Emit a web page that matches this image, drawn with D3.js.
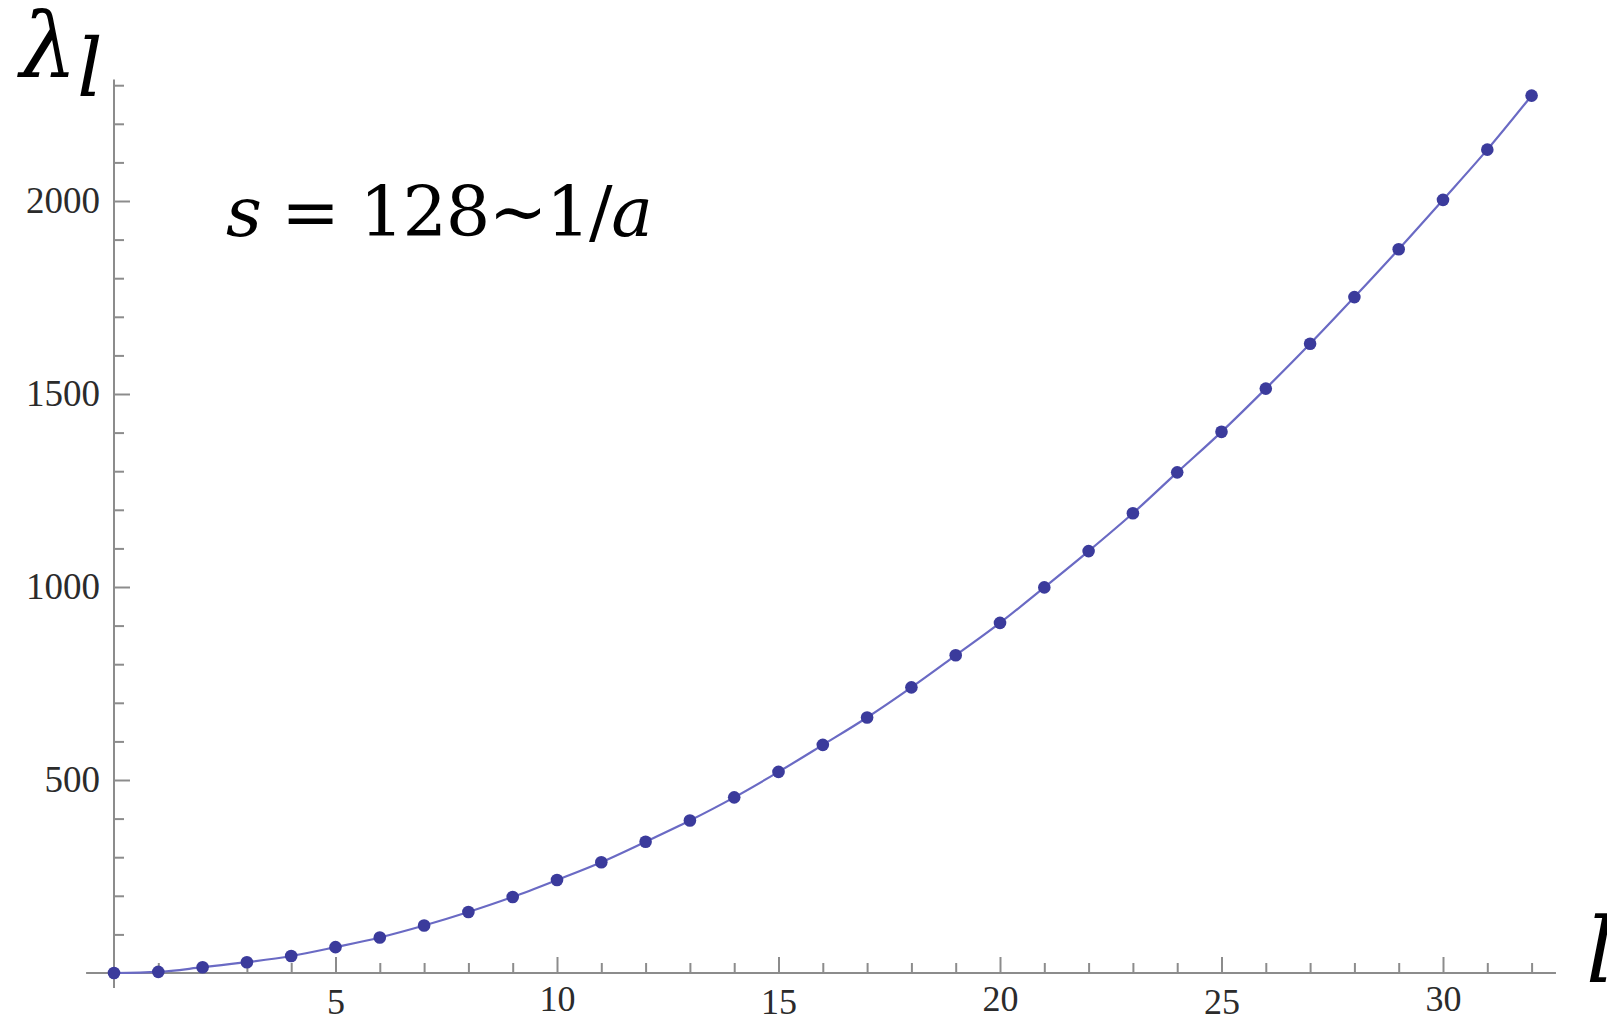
<!DOCTYPE html>
<html>
<head>
<meta charset="utf-8">
<script src="https://cdn.jsdelivr.net/npm/d3@7"></script>
<style>
  body { margin: 0; background: #fff; }
  svg { display: block; }
</style>
</head>
<body>
<div id="chart"></div>
<script>
// eigenvalues lambda_l, l = 0..32
const ells = d3.range(0, 33);
const lambdas = [0, 3, 15, 28, 44, 67, 92, 123, 158, 197, 241, 287, 340, 395, 455, 521,
                 591, 662, 740, 823, 907, 999, 1093, 1191, 1297, 1402, 1514, 1630, 1751,
                 1875, 2003, 2133, 2273];
const xMajor = [5, 10, 15, 20, 25, 30];
const xMinor = d3.range(1, 33).filter(d => d % 5 !== 0);
const yMajor = [500, 1000, 1500, 2000];
const yMinor = d3.range(100, 2400, 100).filter(d => d % 500 !== 0);

const W = 1607, H = 1022;
const AXIS = "#8c8c8c", LABEL = "#2b2b2b", LINE = "#6a6ac4", DOT = "#3b3b9c";
const TICKFONT = "'Liberation Serif', 'Times New Roman', Times, serif";

const data = ells.map((l, i) => ({ l: l, v: lambdas[i] }));

const x = d3.scaleLinear().domain([0, 30]).range([114, 1443]);
const y = d3.scaleLinear().domain([0, 2000]).range([973, 201]);

const svg = d3.select("#chart").append("svg")
    .attr("width", W)
    .attr("height", H);

// axis lines, crossing at the origin with a short overhang
svg.append("line")
    .attr("x1", x(-0.63)).attr("x2", x(32.55))
    .attr("y1", y(0)).attr("y2", y(0))
    .attr("stroke", AXIS).attr("stroke-width", 2);
svg.append("line")
    .attr("x1", x(0)).attr("x2", x(0))
    .attr("y1", y(-39)).attr("y2", y(2315))
    .attr("stroke", AXIS).attr("stroke-width", 2);

// x ticks (pointing up, inside the plot)
const xMinorAxis = d3.axisBottom(x).tickValues(xMinor).tickSize(-10).tickFormat("");
svg.append("g").attr("transform", `translate(0, ${y(0)})`).call(xMinorAxis)
    .call(g => g.select(".domain").remove());

const xAxis = d3.axisBottom(x).tickValues(xMajor).tickSize(-16).tickPadding(12)
    .tickFormat(d3.format("d"));
svg.append("g").attr("class", "xaxis").attr("transform", `translate(0, ${y(0)})`).call(xAxis)
    .call(g => g.select(".domain").remove());

// y ticks (pointing right)
const yMinorAxis = d3.axisLeft(y).tickValues(yMinor).tickSize(-10).tickFormat("");
svg.append("g").attr("transform", `translate(${x(0)}, 0)`).call(yMinorAxis)
    .call(g => g.select(".domain").remove());

const yAxis = d3.axisLeft(y).tickValues(yMajor).tickSize(-16).tickPadding(14)
    .tickFormat(d3.format("d"));
svg.append("g").attr("class", "yaxis").attr("transform", `translate(${x(0)}, 0)`).call(yAxis)
    .call(g => g.select(".domain").remove());

svg.selectAll(".tick line").attr("stroke", AXIS).attr("stroke-width", 2);
svg.selectAll(".xaxis, .yaxis").attr("font-family", TICKFONT).attr("font-size", 37);
svg.selectAll(".xaxis text, .yaxis text")
    .attr("fill", LABEL)
    .attr("font-family", TICKFONT)
    .attr("font-size", 37);
svg.selectAll(".xaxis text").attr("font-size", 36);
// odd multiples of five sit a little lower in the original
svg.selectAll(".xaxis .tick text")
    .attr("dy", d => (d % 10 === 0 ? "0.71em" : "0.8em"));

// curve
const line = d3.line()
    .x(d => x(d.l))
    .y(d => y(d.v))
    .curve(d3.curveMonotoneX);

svg.append("path")
    .datum(data)
    .attr("d", line)
    .attr("fill", "none")
    .attr("stroke", LINE)
    .attr("stroke-width", 2.2);

svg.selectAll("circle.pt")
    .data(data)
    .enter().append("circle")
    .attr("class", "pt")
    .attr("cx", d => x(d.l))
    .attr("cy", d => y(d.v))
    .attr("r", 6.3)
    .attr("fill", DOT);

// axis titles
const yTitle = svg.append("text")
    .attr("x", 20)
    .attr("y", 76)
    .style("font-family", "'DejaVu Serif', serif")
    .style("font-style", "italic")
    .attr("fill", "#000");
yTitle.append("tspan").style("font-size", "90px").text("λ");
yTitle.append("tspan").style("font-size", "80px").attr("dy", 20).text("l");

svg.append("text")
    .attr("x", 1586)
    .attr("y", 982)
    .style("font", "italic 90px 'DejaVu Serif', serif")
    .attr("fill", "#000")
    .text("l");

// annotation
const note = svg.append("text")
    .attr("x", 226)
    .attr("y", 236)
    .attr("textLength", 427)
    .attr("lengthAdjust", "spacing")
    .style("font-family", "'DejaVu Serif', serif")
    .style("font-size", "70px")
    .attr("fill", "#000");
note.append("tspan").style("font-style", "italic").text("s");
note.append("tspan").text(" = 128~1/");
note.append("tspan").style("font-style", "italic").text("a");
</script>
</body>
</html>
